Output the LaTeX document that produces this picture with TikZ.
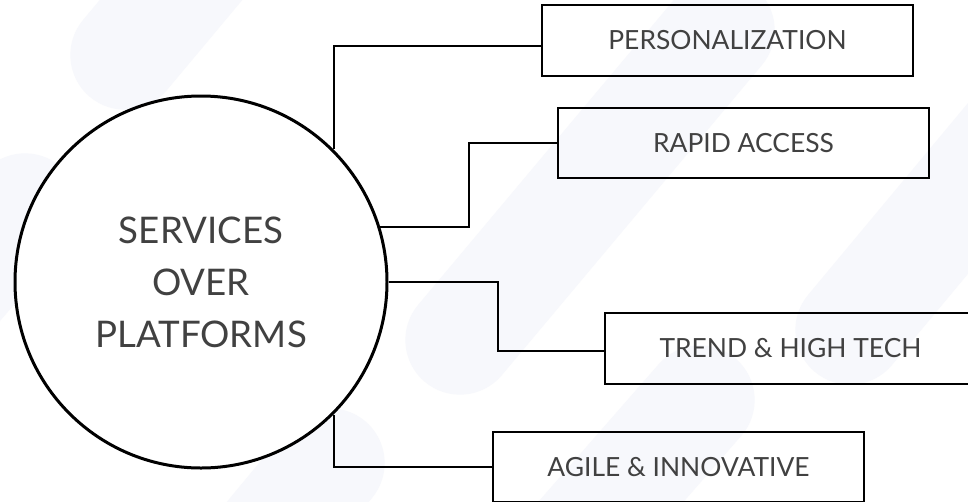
\documentclass[tikz,border=0pt]{standalone}
\usepackage{fontspec}
\setmainfont{Lato}
\definecolor{txtgray}{HTML}{414141}
\definecolor{bgband}{HTML}{F7F8FC}

\begin{document}
\begin{tikzpicture}[x=0.75pt,y=-0.75pt,
  box/.style={draw=black,line width=1.5pt,minimum width=278pt,minimum height=53pt,inner sep=0pt,text=txtgray,font=\fontsize{19.8}{24}\selectfont},
  band/.style={line width=82pt,line cap=round,bgband},
  link/.style={draw=black,line width=1.5pt}]
\useasboundingbox (0,0) rectangle (968,501);
\fill[white] (0,0) rectangle (968,501);

%---------------------------------------------------
%background bands
\draw[band] (125,55) -- (330,-190);
\draw[band] (25,208) -- (-200,470);
\draw[band] (460,340) -- (720,30);
\draw[band] (330,463) -- (200,620);
\draw[band] (850,330) -- (1050,90);
\draw[band] (560,560) -- (700,400);

%---------------------------------------------------
\node[circle,draw=black,line width=2.25pt,fill=white,minimum size=279pt,inner sep=0pt,align=center,text=txtgray,font=\fontsize{27.5}{39}\selectfont] (svc) at (201,282) {SERVICES\\OVER\\PLATFORMS};

\node[box] (pers)  at (727.5,40.5) {PERSONALIZATION};
\node[box] (rapid) at (743.5,143)  {RAPID ACCESS};
\node[box] (trend) at (790.5,348.5) {TREND \& HIGH TECH};
\node[box] (agile) at (678.5,467)  {AGILE \& INNOVATIVE};

%---------------------------------------------------
%connectors
\draw[link] (svc.45) |- ([yshift=-4pt]pers.west);
\draw[link] (svc.17) -- ++(89,0) |- (rapid.west);
\draw[link] (svc.east) -- ++(109,0) |- ([yshift=-2pt]trend.west);
\draw[link] (svc.-45) |- (agile.west);

\end{tikzpicture}
\end{document}
